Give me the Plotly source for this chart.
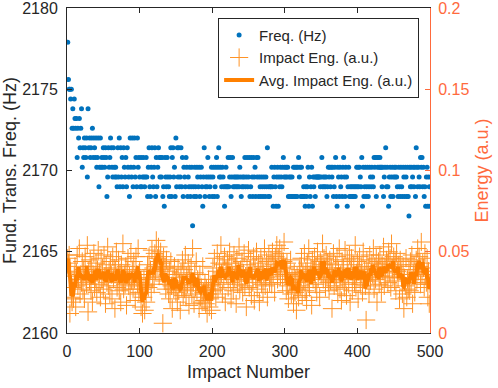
import pandas as pd
import plotly.graph_objs as go

# fundamental transverse frequency per impact (Hz)
freq_hz = [
    2177.9, 2175.6, 2175.0, 2175.0, 2174.4, 2175.0, 2172.6, 2173.8, 2172.6, 2174.4,
    2173.2, 2172.6, 2173.2, 2170.8, 2172.6, 2172.0, 2173.2, 2171.4, 2172.6, 2173.8,
    2170.2, 2171.4, 2170.8, 2172.0, 2171.4, 2170.8, 2172.0, 2169.6, 2173.8, 2171.4,
    2172.0, 2170.8, 2171.4, 2172.0, 2172.6, 2170.8, 2172.0, 2171.4, 2170.8, 2172.0,
    2170.2, 2170.8, 2172.0, 2169.0, 2170.2, 2172.0, 2170.2, 2170.8, 2170.2, 2171.4,
    2170.8, 2170.2, 2171.4, 2170.8, 2168.4, 2169.6, 2171.4, 2170.2, 2170.8, 2172.0,
    2171.4, 2170.2, 2169.6, 2171.4, 2170.2, 2169.6, 2170.2, 2169.6, 2169.0, 2171.4,
    2169.6, 2172.0, 2169.0, 2171.4, 2169.6, 2170.8, 2169.0, 2171.4, 2170.2, 2169.6,
    2170.8, 2169.0, 2171.4, 2170.2, 2169.6, 2168.4, 2172.0, 2170.2, 2169.6, 2172.0,
    2169.0, 2170.2, 2172.0, 2169.6, 2170.8, 2169.0, 2172.0, 2170.2, 2170.8, 2169.6,
    2169.0, 2170.8, 2169.0, 2169.6, 2170.8, 2169.6, 2169.0, 2169.6, 2170.8, 2169.6,
    2168.4, 2170.2, 2171.4, 2169.0, 2168.4, 2170.2, 2171.4, 2169.6, 2169.0, 2170.2,
    2171.4, 2168.4, 2170.8, 2169.0, 2170.2, 2171.4, 2170.8, 2169.6, 2170.8, 2169.6,
    2170.8, 2168.4, 2169.0, 2167.8, 2170.8, 2169.6, 2169.0, 2170.8, 2169.6, 2169.0,
    2168.4, 2169.6, 2171.4, 2168.4, 2170.8, 2171.4, 2169.6, 2170.2, 2168.4, 2172.0,
    2169.0, 2171.4, 2169.6, 2171.4, 2169.0, 2169.6, 2171.4, 2169.0, 2170.8, 2168.4,
    2170.2, 2169.6, 2169.0, 2170.8, 2170.2, 2168.4, 2169.6, 2169.0, 2170.2, 2168.4,
    2169.0, 2170.2, 2166.6, 2169.0, 2168.4, 2170.2, 2169.0, 2168.4, 2170.2, 2169.6,
    2169.0, 2170.2, 2168.4, 2169.6, 2170.2, 2169.0, 2167.8, 2169.6, 2171.4, 2168.4,
    2169.0, 2169.6, 2169.0, 2170.8, 2169.6, 2168.4, 2169.0, 2169.6, 2170.2, 2168.4,
    2169.6, 2170.2, 2168.4, 2169.0, 2170.2, 2170.8, 2168.4, 2170.2, 2171.4, 2169.6,
    2170.2, 2169.6, 2169.0, 2170.2, 2169.6, 2169.0, 2167.8, 2169.0, 2170.2, 2169.0,
    2169.0, 2170.8, 2169.0, 2169.6, 2170.8, 2168.4, 2169.6, 2170.8, 2169.0, 2169.6,
    2169.0, 2169.6, 2169.0, 2169.6, 2169.0, 2169.6, 2169.0, 2170.2, 2169.6, 2168.4,
    2169.0, 2169.6, 2169.0, 2169.6, 2170.8, 2169.0, 2169.6, 2170.8, 2169.0, 2169.6,
    2170.8, 2168.4, 2169.0, 2170.8, 2169.6, 2168.4, 2170.8, 2169.6, 2170.2, 2168.4,
    2170.8, 2169.6, 2170.8, 2168.4, 2169.6, 2169.0, 2168.4, 2169.6, 2169.0, 2168.4,
    2169.6, 2169.0, 2168.4, 2169.6, 2169.0, 2171.4, 2168.4, 2169.0, 2168.4, 2169.0,
    2169.0, 2170.2, 2169.0, 2167.8, 2169.6, 2170.2, 2169.0, 2167.8, 2169.6, 2170.2,
    2167.8, 2169.6, 2169.0, 2170.2, 2169.6, 2169.0, 2170.2, 2170.8, 2169.6, 2170.2,
    2169.6, 2170.2, 2169.6, 2170.2, 2168.4, 2169.6, 2168.4, 2169.6, 2168.4, 2169.6,
    2168.4, 2170.2, 2168.4, 2170.2, 2168.4, 2170.2, 2168.4, 2170.2, 2170.8, 2169.6,
    2170.2, 2168.4, 2170.2, 2168.4, 2168.4, 2169.0, 2168.4, 2167.8, 2169.0, 2168.4,
    2169.0, 2170.2, 2167.8, 2169.6, 2168.4, 2169.0, 2170.2, 2167.8, 2169.6, 2169.0,
    2169.6, 2168.4, 2169.6, 2169.6, 2169.6, 2169.6, 2169.6, 2169.6, 2169.0, 2169.6,
    2170.8, 2169.0, 2169.6, 2169.0, 2169.6, 2169.0, 2169.6, 2168.4, 2169.0, 2170.2,
    2169.6, 2170.2, 2169.0, 2170.2, 2169.6, 2170.2, 2168.4, 2169.0, 2170.2, 2170.8,
    2168.4, 2167.8, 2170.2, 2169.6, 2168.4, 2170.2, 2169.0, 2169.6, 2168.4, 2170.2,
    2170.8, 2169.6, 2168.4, 2170.2, 2169.6, 2167.8, 2169.0, 2170.2, 2168.4, 2169.0,
    2168.4, 2169.0, 2168.4, 2169.0, 2168.4, 2169.0, 2168.4, 2169.0, 2170.2, 2169.0,
    2170.2, 2169.0, 2170.2, 2169.6, 2169.0, 2170.8, 2167.8, 2170.2, 2168.4, 2169.0,
    2170.2, 2168.4, 2169.0, 2170.2, 2168.4, 2169.0, 2170.2, 2169.6, 2169.0, 2170.2,
    2169.6, 2169.0, 2170.8, 2170.2, 2170.8, 2168.4, 2170.8, 2170.2, 2170.8, 2170.2,
    2170.8, 2170.2, 2170.2, 2169.0, 2170.2, 2168.4, 2169.6, 2170.2, 2171.4, 2169.0,
    2170.2, 2169.0, 2167.8, 2169.6, 2170.2, 2168.4, 2169.6, 2170.2, 2168.4, 2169.6,
    2170.2, 2169.6, 2170.2, 2169.6, 2169.0, 2168.4, 2170.2, 2169.0, 2168.4, 2170.2,
    2169.0, 2168.4, 2170.2, 2169.6, 2168.4, 2170.2, 2169.6, 2168.4, 2170.2, 2168.4,
    2167.2, 2170.2, 2169.0, 2170.2, 2169.0, 2169.6, 2170.2, 2169.0, 2170.2, 2168.4,
    2171.4, 2170.2, 2169.0, 2170.2, 2169.6, 2169.0, 2170.8, 2170.2, 2170.8, 2169.0,
    2170.2, 2168.4, 2169.0, 2167.8, 2169.6, 2170.2, 2167.8, 2169.6, 2169.0, 2167.8,
]

# impact energy per impact (a.u.)
energy_au = [
    0.046, 0.043, 0.048, 0.012, 0.038, 0.022, 0.019, 0.028, 0.021, 0.035,
    0.041, 0.016, 0.037, 0.048, 0.029, 0.033, 0.052, 0.024, 0.036, 0.031,
    0.044, 0.027, 0.039, 0.021, 0.047, 0.035, 0.030, 0.054, 0.013, 0.038,
    0.032, 0.045, 0.026, 0.041, 0.019, 0.036, 0.049, 0.028, 0.034, 0.043,
    0.025, 0.039, 0.051, 0.030, 0.037, 0.022, 0.046, 0.033, 0.040, 0.027,
    0.048, 0.035, 0.018, 0.042, 0.031, 0.053, 0.029, 0.038, 0.024, 0.044,
    0.036, 0.021, 0.047, 0.033, 0.040, 0.015, 0.039, 0.050, 0.028, 0.034,
    0.045, 0.026, 0.037, 0.019, 0.042, 0.031, 0.055, 0.027, 0.036, 0.030,
    0.041, 0.017, 0.038, 0.046, 0.029, 0.035, 0.024, 0.049, 0.032, 0.039,
    0.027, 0.044, 0.033, 0.020, 0.047, 0.036, 0.030, 0.052, 0.025, 0.038,
    0.031, 0.016, 0.027, 0.012, 0.022, 0.033, 0.014, 0.029, 0.019, 0.036,
    0.042, 0.028, 0.047, 0.034, 0.039, 0.025, 0.051, 0.033, 0.040, 0.030,
    0.049, 0.038, 0.057, 0.041, 0.046, 0.053, 0.035, 0.044, 0.050, 0.039,
    0.043, 0.006, 0.047, 0.032, 0.040, 0.027, 0.045, 0.030, 0.036, 0.024,
    0.038, 0.021, 0.044, 0.029, 0.015, 0.036, 0.027, 0.041, 0.032, 0.025,
    0.034, 0.019, 0.040, 0.026, 0.031, 0.014, 0.037, 0.028, 0.045, 0.023,
    0.039, 0.027, 0.048, 0.022, 0.035, 0.030, 0.043, 0.017, 0.036, 0.029,
    0.041, 0.024, 0.052, 0.031, 0.018, 0.037, 0.028, 0.044, 0.026, 0.033,
    0.030, 0.015, 0.036, 0.022, 0.028, 0.019, 0.041, 0.025, 0.020, 0.031,
    0.018, 0.027, 0.012, 0.024, 0.033, 0.016, 0.021, 0.029, 0.014, 0.030,
    0.040, 0.026, 0.046, 0.031, 0.022, 0.038, 0.049, 0.027, 0.035, 0.043,
    0.030, 0.054, 0.037, 0.024, 0.042, 0.033, 0.047, 0.019, 0.039, 0.036,
    0.045, 0.028, 0.040, 0.050, 0.031, 0.021, 0.043, 0.035, 0.026, 0.048,
    0.034, 0.041, 0.018, 0.046, 0.030, 0.038, 0.053, 0.027, 0.039, 0.032,
    0.044, 0.025, 0.037, 0.049, 0.029, 0.035, 0.016, 0.042, 0.033, 0.051,
    0.028, 0.039, 0.045, 0.023, 0.036, 0.031, 0.047, 0.020, 0.040, 0.034,
    0.050, 0.027, 0.038, 0.043, 0.019, 0.035, 0.046, 0.030, 0.041, 0.025,
    0.037, 0.052, 0.029, 0.034, 0.044, 0.022, 0.039, 0.048, 0.031, 0.036,
    0.045, 0.030, 0.050, 0.036, 0.042, 0.025, 0.047, 0.039, 0.054, 0.033,
    0.046, 0.038, 0.052, 0.035, 0.043, 0.049, 0.031, 0.044, 0.056, 0.037,
    0.040, 0.026, 0.043, 0.029, 0.021, 0.036, 0.031, 0.045, 0.024, 0.033,
    0.030, 0.018, 0.037, 0.025, 0.033, 0.014, 0.035, 0.027, 0.022, 0.039,
    0.041, 0.029, 0.046, 0.023, 0.037, 0.032, 0.049, 0.026, 0.038, 0.020,
    0.043, 0.031, 0.052, 0.028, 0.036, 0.040, 0.017, 0.045, 0.033, 0.039,
    0.047, 0.030, 0.041, 0.025, 0.050, 0.034, 0.038, 0.022, 0.044, 0.036,
    0.042, 0.055, 0.033, 0.046, 0.039, 0.028, 0.048, 0.035, 0.043, 0.031,
    0.026, 0.045, 0.032, 0.040, 0.015, 0.037, 0.049, 0.029, 0.035, 0.042,
    0.031, 0.047, 0.024, 0.038, 0.052, 0.027, 0.036, 0.020, 0.044, 0.033,
    0.040, 0.028, 0.051, 0.034, 0.023, 0.045, 0.037, 0.030, 0.048, 0.019,
    0.039, 0.046, 0.026, 0.035, 0.042, 0.031, 0.054, 0.028, 0.037, 0.044,
    0.021, 0.038, 0.047, 0.030, 0.036, 0.041, 0.025, 0.050, 0.033, 0.039,
    0.029, 0.008, 0.045, 0.034, 0.040, 0.024, 0.048, 0.032, 0.037, 0.043,
    0.036, 0.052, 0.027, 0.041, 0.033, 0.046, 0.019, 0.039, 0.044, 0.030,
    0.048, 0.035, 0.025, 0.042, 0.038, 0.053, 0.029, 0.040, 0.034, 0.045,
    0.043, 0.031, 0.050, 0.037, 0.046, 0.028, 0.055, 0.040, 0.035, 0.047,
    0.032, 0.044, 0.026, 0.049, 0.038, 0.034, 0.042, 0.021, 0.045, 0.039,
    0.036, 0.024, 0.041, 0.015, 0.034, 0.029, 0.046, 0.022, 0.033, 0.027,
    0.039, 0.026, 0.044, 0.031, 0.048, 0.018, 0.036, 0.042, 0.025, 0.037,
    0.045, 0.033, 0.052, 0.038, 0.047, 0.041, 0.030, 0.056, 0.036, 0.043,
    0.040, 0.028, 0.049, 0.035, 0.031, 0.046, 0.022, 0.038, 0.018, 0.030,
]

impact = list(range(1, len(freq_hz) + 1))

# running average of the impact energy
avg_energy = pd.Series(energy_au).rolling(4, center=True, min_periods=1).mean()

font_ = "Liberation Sans, Arial, sans-serif"
dark = "#262626"
red_ = "#FF6A3D"

fig = go.Figure()
fig.add_trace(go.Scatter(
    x=impact, y=freq_hz, mode="markers", name="Freq. (Hz)",
    marker=dict(color="#0072BD", size=5)))
fig.add_trace(go.Scatter(
    x=impact, y=energy_au, yaxis="y2", mode="markers", name="Impact Eng. (a.u.)",
    marker=dict(symbol="cross-thin", size=13, color="#FF9326",
                line=dict(color="#FF9326", width=1))))
fig.add_trace(go.Scatter(
    x=impact, y=list(avg_energy), yaxis="y2", mode="lines", name="Avg. Impact Eng. (a.u.)",
    line=dict(color="#FF8000", width=4)))

fig.update_layout(
    width=498, height=388,
    margin=dict(l=67, r=68, t=8, b=55),
    paper_bgcolor="white", plot_bgcolor="white",
    font=dict(family=font_, size=16, color=dark),
    xaxis=dict(range=[0, 500], dtick=100, ticks="inside", ticklen=5, tickcolor=dark,
               showline=True, linecolor=dark, linewidth=1, mirror="ticks",
               showgrid=False, zeroline=False, ticklabelstandoff=4, automargin=False,
               ticklabeloverflow="allow",
               title=dict(text="Impact Number", font=dict(size=18), standoff=6)),
    yaxis=dict(range=[2160, 2180], dtick=5, ticks="inside", ticklen=5, tickcolor=dark,
               showline=True, linecolor=dark, linewidth=1, automargin=False,
               showgrid=False, zeroline=False, ticklabelstandoff=5,
               ticklabeloverflow="allow",
               title=dict(text="Fund. Trans. Freq. (Hz)", font=dict(size=18), standoff=4)),
    yaxis2=dict(range=[0, 0.2], overlaying="y", side="right",
                tickvals=[0, 0.05, 0.1, 0.15, 0.2], ticktext=["0", "0.05", "0.1", "0.15", "0.2"],
                ticks="inside", ticklen=5, tickcolor=red_, color=red_,
                showline=True, linecolor=red_, linewidth=1, automargin=False,
                showgrid=False, zeroline=False, ticklabelstandoff=4,
                ticklabeloverflow="allow",
                tickfont=dict(color=red_),
                title=dict(text="Energy (a.u.)", font=dict(size=18, color=red_), standoff=6)),
    legend=dict(x=0.97, y=0.97, xanchor="right", yanchor="top",
                bgcolor="white", bordercolor=dark, borderwidth=1,
                font=dict(size=15, color=dark), tracegroupgap=0),
)

# drop the default page margin so the figure sits at the window's corner
fig.write_html("out.html", config={"displayModeBar": False},
               post_script="document.body.style.margin='0px';")
